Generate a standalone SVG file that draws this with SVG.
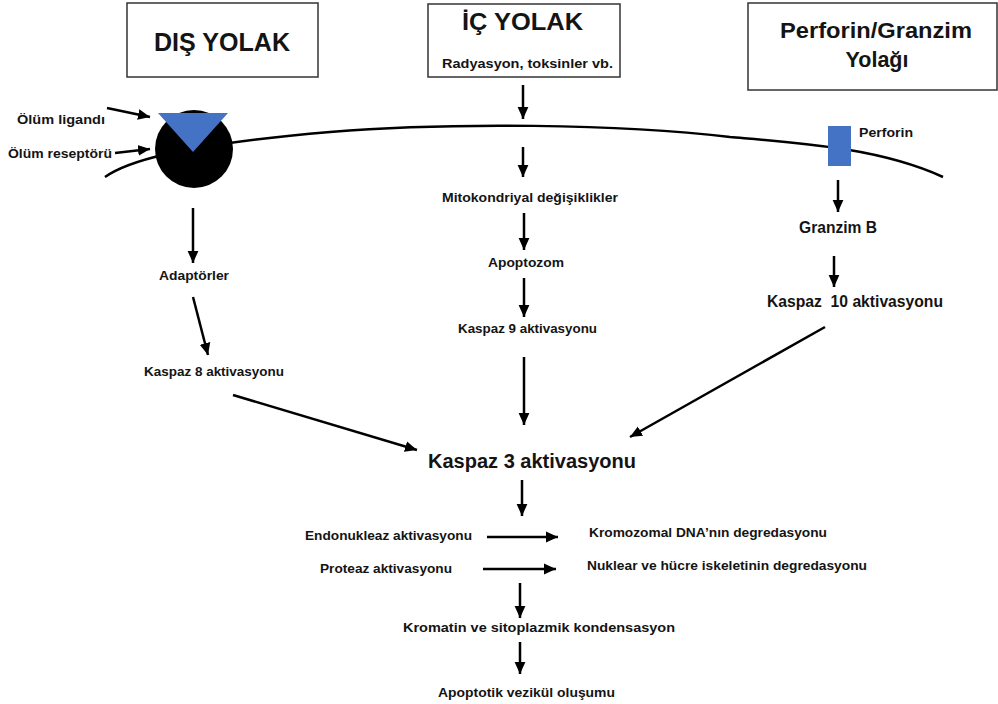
<svg xmlns="http://www.w3.org/2000/svg" width="998" height="704" viewBox="0 0 998 704">
<defs>
<marker id="ah" markerUnits="userSpaceOnUse" markerWidth="12" markerHeight="12" viewBox="0 0 10 10" refX="10" refY="5" orient="auto">
<path d="M0,0.5 L10,5 L0,9.5 Z" fill="#000"/>
</marker>
<style>
text{font-family:"Liberation Sans",Arial,sans-serif;font-weight:bold;fill:#141414;}
.box{fill:#fff;stroke:#333;stroke-width:1.5;}
.ar{stroke:#000;stroke-width:2.5;fill:none;marker-end:url(#ah);}
.s{font-size:13px;}
.m{font-size:16px;}
</style>
</defs>
<rect width="998" height="704" fill="#fff"/>

<g id="membrane">
<path d="M105,177 C125,163 170,146 330,132 C450,122 620,124 730,137 C800,143 880,148 943,177" fill="none" stroke="#000" stroke-width="2.5"/>
</g>

<g id="dis-yolak">
<rect class="box" x="127" y="3" width="191" height="74"/>
<text x="154" y="51" font-size="26" textLength="136" lengthAdjust="spacingAndGlyphs">DIŞ YOLAK</text>
</g>
<g id="ic-yolak">
<rect class="box" x="428" y="4" width="192" height="73"/>
<text x="462" y="30" font-size="24" textLength="121" lengthAdjust="spacingAndGlyphs">İÇ YOLAK</text>
<text x="442" y="68" font-size="12.5" textLength="171" lengthAdjust="spacingAndGlyphs">Radyasyon, toksinler vb.</text>
</g>
<g id="perforin-granzim-yolagi">
<rect class="box" x="748" y="3" width="249" height="87"/>
<text x="780" y="38" font-size="21.5" textLength="192" lengthAdjust="spacingAndGlyphs">Perforin/Granzim</text>
<text x="877" y="67" font-size="21.5" text-anchor="middle">Yolağı</text>
</g>

<g id="receptor">
<circle cx="194" cy="149" r="39" fill="#000"/>
<path d="M158,113 L228,113 L193,152 Z" fill="#4472C4"/>
</g>
<g id="olum-ligandi"><text class="s" x="17" y="124" textLength="88" lengthAdjust="spacingAndGlyphs">Ölüm ligandı</text></g>
<g id="olum-reseptoru"><text class="s" x="8" y="158" textLength="104" lengthAdjust="spacingAndGlyphs">Ölüm reseptörü</text></g>
<g id="adaptorler"><text class="s" x="159" y="280" textLength="70" lengthAdjust="spacingAndGlyphs">Adaptörler</text></g>
<g id="kaspaz8"><text class="s" x="144" y="376" textLength="140" lengthAdjust="spacingAndGlyphs">Kaspaz 8 aktivasyonu</text></g>

<g id="perforin">
<rect x="828" y="126" width="23" height="40" fill="#4472C4"/>
<text x="859" y="137" font-size="12" textLength="54" lengthAdjust="spacingAndGlyphs">Perforin</text>
</g>
<g id="granzim-b"><text class="m" x="799" y="233" textLength="78" lengthAdjust="spacingAndGlyphs">Granzim B</text></g>
<g id="kaspaz10"><text class="m" x="767" y="307" textLength="176" lengthAdjust="spacingAndGlyphs" xml:space="preserve">Kaspaz  10 aktivasyonu</text></g>

<g id="mitokondri"><text class="s" x="442" y="202" textLength="176" lengthAdjust="spacingAndGlyphs">Mitokondriyal değişiklikler</text></g>
<g id="apoptozom"><text class="s" x="488" y="267" textLength="76" lengthAdjust="spacingAndGlyphs">Apoptozom</text></g>
<g id="kaspaz9"><text class="s" x="458" y="333" textLength="139" lengthAdjust="spacingAndGlyphs">Kaspaz 9 aktivasyonu</text></g>

<g id="kaspaz3"><text x="428" y="468" font-size="19.5" textLength="208" lengthAdjust="spacingAndGlyphs">Kaspaz 3 aktivasyonu</text></g>

<g id="endonukleaz"><text class="s" x="305" y="540" textLength="167" lengthAdjust="spacingAndGlyphs">Endonukleaz aktivasyonu</text></g>
<g id="kromozomal"><text class="s" x="589" y="537" textLength="238" lengthAdjust="spacingAndGlyphs">Kromozomal DNA’nın degredasyonu</text></g>
<g id="proteaz"><text class="s" x="320" y="573" textLength="132" lengthAdjust="spacingAndGlyphs">Proteaz aktivasyonu</text></g>
<g id="nuklear"><text class="s" x="587" y="570" textLength="280" lengthAdjust="spacingAndGlyphs">Nuklear ve hücre iskeletinin degredasyonu</text></g>
<g id="kromatin"><text class="s" x="403" y="632" textLength="272" lengthAdjust="spacingAndGlyphs">Kromatin ve sitoplazmik kondensasyon</text></g>
<g id="vezikul"><text class="s" x="438" y="697" textLength="177" lengthAdjust="spacingAndGlyphs">Apoptotik vezikül oluşumu</text></g>

<g id="connectors">
<line class="ar" x1="107" y1="108" x2="150" y2="117"/>
<line class="ar" x1="115" y1="153" x2="150" y2="149"/>
<line class="ar" x1="193" y1="208" x2="193" y2="263"/>
<line class="ar" x1="193" y1="297" x2="208" y2="355"/>
<line class="ar" x1="233" y1="395" x2="417" y2="450"/>
<line class="ar" x1="523" y1="85" x2="523" y2="119"/>
<line class="ar" x1="523" y1="147" x2="523" y2="177"/>
<line class="ar" x1="524" y1="213" x2="524" y2="250"/>
<line class="ar" x1="524" y1="278" x2="524" y2="317"/>
<line class="ar" x1="524" y1="357" x2="524" y2="425"/>
<line class="ar" x1="838" y1="180" x2="838" y2="212"/>
<line class="ar" x1="834" y1="256" x2="834" y2="287"/>
<line class="ar" x1="825" y1="327" x2="630" y2="437"/>
<line class="ar" x1="522" y1="480" x2="522" y2="516"/>
<line class="ar" x1="487" y1="537" x2="558" y2="537"/>
<line class="ar" x1="483" y1="569" x2="556" y2="569"/>
<line class="ar" x1="520" y1="583" x2="520" y2="618"/>
<line class="ar" x1="520" y1="642" x2="520" y2="674"/>
</g>
</svg>
